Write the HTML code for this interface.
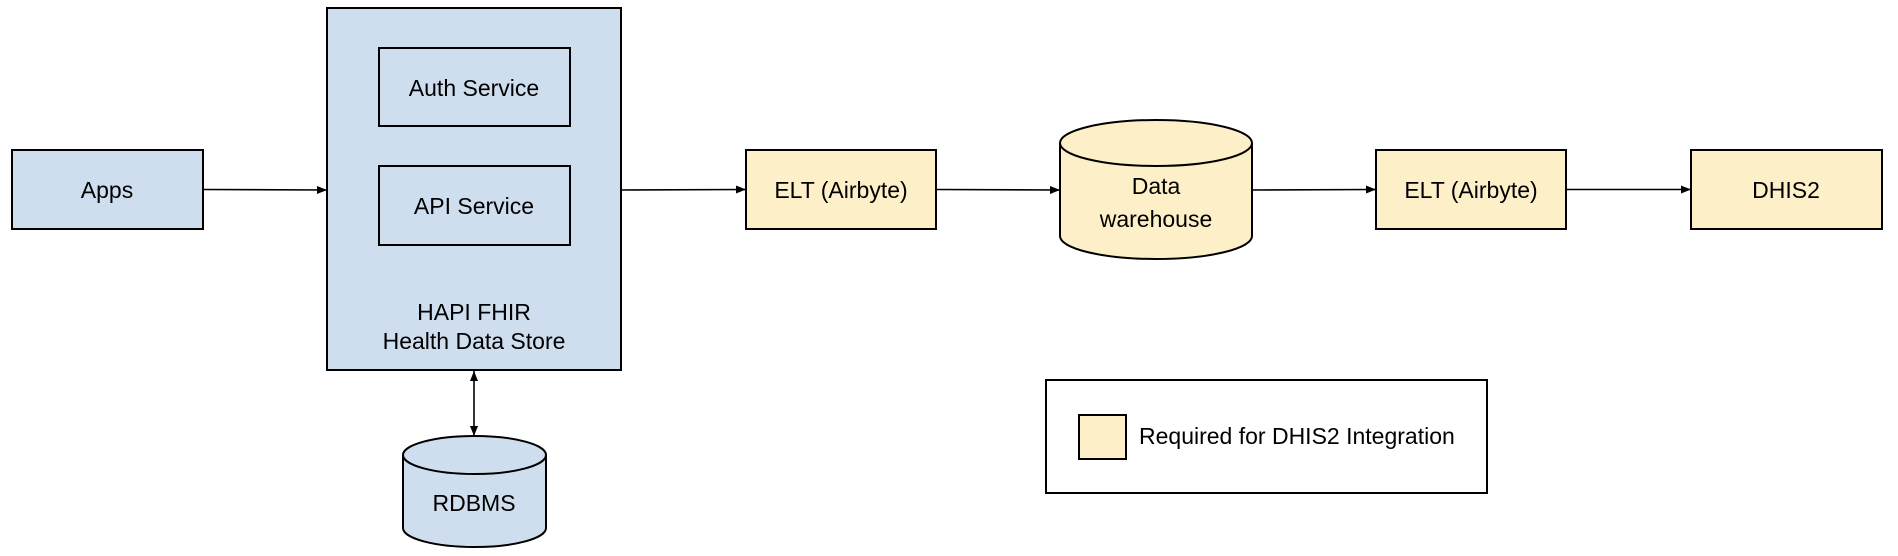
<!DOCTYPE html>
<html><head><meta charset="utf-8"><style>
html,body{margin:0;padding:0;background:#fff;}
svg{display:block;}
text{font-family:"Liberation Sans",Arial,sans-serif;font-size:23px;fill:#000;}
</style></head><body>
<svg width="1898" height="556" viewBox="0 0 1898 556" xmlns="http://www.w3.org/2000/svg">
<defs>
<marker id="a" viewBox="0 0 10 10" refX="10" refY="5" markerWidth="10" markerHeight="10" markerUnits="userSpaceOnUse" orient="auto-start-reverse"><path d="M0,1 L10,5 L0,9 z" fill="#000"/></marker>
</defs>
<g stroke="#000" stroke-width="2">
<rect x="12" y="150" width="191" height="79" fill="#cfdeee"/>
<rect x="327" y="8" width="294" height="362" fill="#cfdeee"/>
<rect x="379" y="48" width="191" height="78" fill="#cfdeee"/>
<rect x="379" y="166" width="191" height="79" fill="#cfdeee"/>
<rect x="746" y="150" width="190" height="79" fill="#fdf0c8"/>
<rect x="1376" y="150" width="190" height="79" fill="#fdf0c8"/>
<rect x="1691" y="150" width="191" height="79" fill="#fdf0c8"/>
<rect x="1046" y="380" width="441" height="113" fill="#fff"/>
<rect x="1079" y="415" width="47" height="44" fill="#fdf0c8"/>
<path d="M1060,143 A96,23 0 0 1 1252,143 L1252,236 A96,23 0 0 1 1060,236 Z" fill="#fdf0c8"/>
<path d="M1060,143 A96,23 0 0 0 1252,143" fill="none"/>
<path d="M403,455 A71.5,19 0 0 1 546,455 L546,528 A71.5,19 0 0 1 403,528 Z" fill="#cfdeee"/>
<path d="M403,455 A71.5,19 0 0 0 546,455" fill="none"/>
<g fill="none" stroke-width="1.6">
<line x1="203" y1="189.5" x2="327" y2="190" marker-end="url(#a)"/>
<line x1="621" y1="190" x2="746" y2="189.5" marker-end="url(#a)"/>
<line x1="936" y1="189.5" x2="1060" y2="190" marker-end="url(#a)"/>
<line x1="1252" y1="190" x2="1376" y2="189.5" marker-end="url(#a)"/>
<line x1="1566" y1="189.5" x2="1691" y2="189.5" marker-end="url(#a)"/>
<line x1="474" y1="371" x2="474" y2="436" marker-start="url(#a)" marker-end="url(#a)"/>
</g>
</g>
<g text-anchor="middle">
<text x="107" y="198">Apps</text>
<text x="474" y="96">Auth Service</text>
<text x="474" y="214">API Service</text>
<text x="474" y="320">HAPI FHIR</text>
<text x="474" y="349">Health Data Store</text>
<text x="841" y="198">ELT (Airbyte)</text>
<text x="1156" y="194">Data</text>
<text x="1156" y="227">warehouse</text>
<text x="1471" y="198">ELT (Airbyte)</text>
<text x="1786" y="198">DHIS2</text>
<text x="474" y="511">RDBMS</text>
</g>
<text x="1139" y="444">Required for DHIS2 Integration</text>
</svg>
</body></html>
